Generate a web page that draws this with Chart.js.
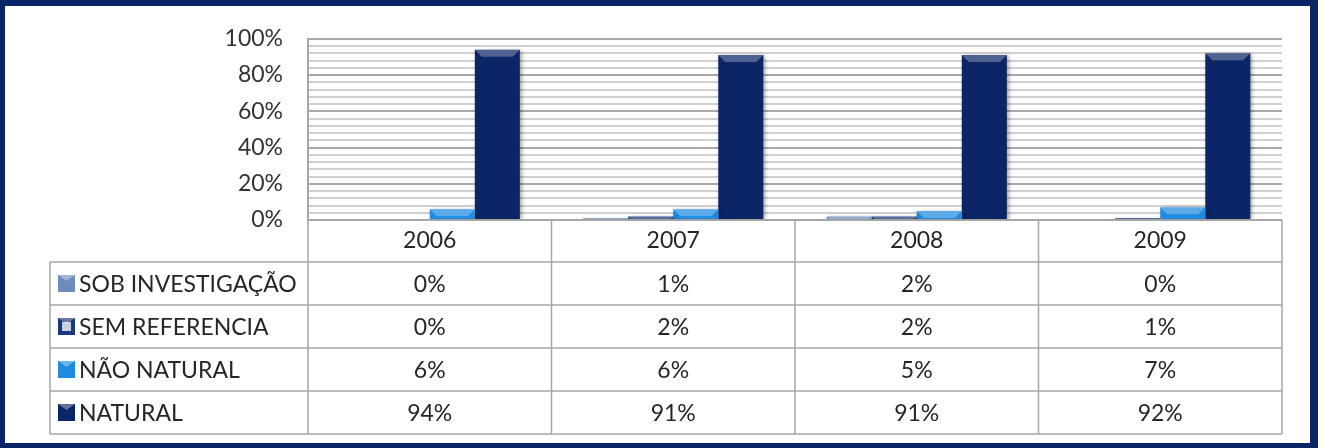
<!DOCTYPE html>
<html>
<head>
<meta charset="utf-8">
<script src="https://cdn.jsdelivr.net/npm/chart.js@4/dist/chart.umd.min.js"></script>
<style>
  body { margin: 0; background: #fff; }
  #wrap { position: relative; width: 1323px; height: 448px; }
  #frame {
    position: absolute; left: 0; top: 0; width: 1305px; height: 437px;
    border-style: solid; border-color: #0b2466;
    border-width: 6px 8px 5px 5px; pointer-events: none;
  }
</style>
</head>
<body>
<div id="wrap">
  <canvas id="chart" width="1323" height="448"></canvas>
  <div id="frame"></div>
</div>
<script>
const years = ['2006', '2007', '2008', '2009'];
const sobInvestigacao = [0, 1, 2, 0];
const semReferencia = [0, 2, 2, 1];
const naoNatural = [6, 6, 5, 7];
const natural = [94, 91, 91, 92];

const seriesNames = ['SOB INVESTIGAÇÃO', 'SEM REFERENCIA', 'NÃO NATURAL', 'NATURAL'];
const seriesColors = ['#6c8bbd', '#18397a', '#1e8ae0', '#0b2566'];

const FONT = 'Lato, "Liberation Sans", sans-serif';
const FONT_SIZE = 23;

// light bevel on top of each bar, like the excel look
const bevelPlugin = {
    id: 'bevel',
    beforeDatasetsDraw(chart) {
        const ctx = chart.ctx;
        ctx.save();
        ctx.shadowColor = 'rgba(0,0,0,0.35)';
        ctx.shadowBlur = 4;
        ctx.shadowOffsetX = 2;
        ctx.shadowOffsetY = 1;
    },
    afterDatasetsDraw(chart) {
        const ctx = chart.ctx;
        ctx.restore();
        chart.data.datasets.forEach((ds, di) => {
            chart.getDatasetMeta(di).data.forEach(bar => {
                const h = bar.base - bar.y;
                if (h < 1) return;
                const left = bar.x - bar.width / 2;
                const right = bar.x + bar.width / 2;
                const b = Math.min(7, h);
                ctx.fillStyle = 'rgba(255,255,255,0.28)';
                ctx.beginPath();
                ctx.moveTo(left, bar.y);
                ctx.lineTo(right, bar.y);
                ctx.lineTo(right - b, bar.y + b);
                ctx.lineTo(left + b, bar.y + b);
                ctx.closePath();
                ctx.fill();
            });
        });
    }
};

// data table under the plot, built from the same arrays
const tablePlugin = {
    id: 'dataTable',
    afterDraw(chart) {
        const {ctx, chartArea: a, scales: {x}} = chart;
        const n = years.length;
        const cw = (a.right - a.left) / n;
        const headerH = 42;
        const rowH = 43;
        const legendLeft = 50;
        const top = a.bottom;
        const bottom = top + headerH + rowH * seriesNames.length;

        ctx.save();
        ctx.strokeStyle = '#a6a6a6';
        ctx.lineWidth = 1.5;
        ctx.beginPath();
        // horizontal lines
        ctx.moveTo(a.left, top);
        ctx.lineTo(a.right, top);
        for (let r = 0; r <= seriesNames.length; r++) {
            const y = top + headerH + r * rowH;
            ctx.moveTo(legendLeft, y);
            ctx.lineTo(a.right, y);
        }
        // vertical lines
        for (let i = 0; i <= n; i++) {
            const xx = a.left + i * cw;
            ctx.moveTo(xx, top);
            ctx.lineTo(xx, bottom);
        }
        ctx.moveTo(legendLeft, top + headerH);
        ctx.lineTo(legendLeft, bottom);
        ctx.stroke();

        ctx.fillStyle = '#262626';
        ctx.font = `${FONT_SIZE}px ${FONT}`;
        ctx.textBaseline = 'middle';
        ctx.textAlign = 'center';
        years.forEach((yr, i) => {
            ctx.fillText(yr, x.getPixelForValue(i), top + headerH / 2);
        });

        chart.data.datasets.forEach((ds, r) => {
            const cy = top + headerH + r * rowH + rowH / 2;
            // legend marker
            const mx = 58, ms = 17, my = cy - ms / 2;
            ctx.fillStyle = ds.backgroundColor;
            ctx.fillRect(mx, my, ms, ms);
            if (r === 1) {
                ctx.fillStyle = '#c9d0dc';
                ctx.fillRect(mx + 4, my + 4, ms - 8, ms - 8);
            }
            ctx.fillStyle = 'rgba(255,255,255,0.35)';
            ctx.beginPath();
            ctx.moveTo(mx, my);
            ctx.lineTo(mx + ms, my);
            ctx.lineTo(mx + ms / 2, my + 6);
            ctx.closePath();
            ctx.fill();

            ctx.fillStyle = '#262626';
            ctx.textAlign = 'left';
            ctx.fillText(ds.label, 79, cy + 1);
            ctx.textAlign = 'center';
            ds.data.forEach((v, i) => {
                ctx.fillText(v + '%', x.getPixelForValue(i), cy + 1);
            });
        });
        ctx.restore();
    }
};

const seriesData = [sobInvestigacao, semReferencia, naoNatural, natural];

new Chart(document.getElementById('chart'), {
    type: 'bar',
    data: {
        labels: years,
        datasets: seriesNames.map((name, i) => ({
            label: name,
            data: seriesData[i],
            backgroundColor: seriesColors[i],
            borderWidth: 0,
            categoryPercentage: 0.74,
            barPercentage: 1.0
        }))
    },
    options: {
        responsive: false,
        animation: false,
        layout: {
            padding: { top: 34, bottom: 228, right: 41, left: 0 }
        },
        scales: {
            x: {
                display: false
            },
            y: {
                min: 0,
                max: 100,
                afterFit(scale) { scale.width = 308; },   // plot starts at x=308
                ticks: {
                    stepSize: 4,
                    autoSkip: false,
                    padding: 25,
                    color: '#333',
                    font: { family: FONT, size: FONT_SIZE },
                    callback: v => (v % 20 === 0 ? v + '%' : '')
                },
                grid: {
                    drawTicks: false,
                    lineWidth: 2,
                    color: c => (c.tick && c.tick.value % 20 === 0 ? '#a8a8a8' : '#d0d0d0')
                },
                border: { display: true, color: '#a6a6a6', width: 2 }
            }
        },
        plugins: {
            legend: { display: false },
            tooltip: { enabled: false }
        }
    },
    plugins: [bevelPlugin, tablePlugin]
});
</script>
</body>
</html>
